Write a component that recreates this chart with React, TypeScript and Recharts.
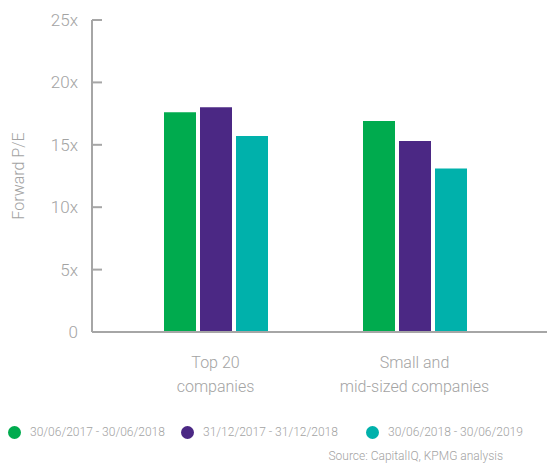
import React from 'react';
import { BarChart, Bar, XAxis, YAxis, Label } from 'recharts';

// categories (x axis), "\n" splits the label over two lines
const CATEGORIES = ['Top 20\ncompanies', 'Small and\nmid-sized companies'];

// series: forward P/E per period
const SERIES_NAMES = ['30/06/2017 - 30/06/2018', '31/12/2017 - 31/12/2018', '30/06/2018 - 30/06/2019'];
const SERIES_KEYS = ['p2018', 'd2018', 'p2019'];
const P2018 = [17.6, 16.9];
const D2018 = [18.0, 15.3];
const P2019 = [15.7, 13.1];

const Y_TICKS = [0, 5, 10, 15, 20, 25];

const COLORS = ['#00AB4E', '#4B2884', '#00B1AB'];
const AXIS_COLOR = '#A6A6A6';
const TEXT_COLOR = '#A3A3A3';
const FONT = 'Roboto, "Noto Sans", sans-serif';

const data = CATEGORIES.map((name, i) => ({
  name,
  p2018: P2018[i],
  d2018: D2018[i],
  p2019: P2019[i],
}));

// y tick: label on the left, short tick pointing into the plot
const YTick = (props: any) => {
  const { x, y, payload } = props;
  return (
    <g>
      <text x={x} y={y} dy={6} textAnchor="end" fill={TEXT_COLOR} fontSize={17} fontWeight={300} fontFamily={FONT}>
        {payload.value === 0 ? '0' : `${payload.value}x`}
      </text>
      <line x1={x + 14} x2={x + 24} y1={y} y2={y} stroke={AXIS_COLOR} strokeWidth={2} />
    </g>
  );
};

const XTick = (props: any) => {
  const { x, y, payload } = props;
  const lines = String(payload.value).split('\n');
  return (
    <text x={x} y={y} textAnchor="middle" fill={TEXT_COLOR} fontSize={16} fontWeight={300} fontFamily={FONT}>
      {lines.map((l, i) => (
        <tspan key={i} x={x} dy={i === 0 ? 30 : 24}>{l}</tspan>
      ))}
    </text>
  );
};

export default function App() {
  return (
    <div style={{ position: 'absolute', left: 0, top: 0, width: 547, height: 465, background: '#fff', fontFamily: FONT }}>
      <BarChart width={547} height={410} data={data} margin={{ top: 20, right: 0, left: 0, bottom: 0 }} barSize={32} barGap={4}>
        <XAxis
          dataKey="name"
          height={78}
          interval={0}
          tickLine={false}
          tickSize={0}
          tickMargin={6}
          padding={{ left: 24, right: 33 }}
          axisLine={{ stroke: AXIS_COLOR, strokeWidth: 2 }}
          tick={<XTick />}
        />
        <YAxis
          width={92}
          domain={[0, 25]}
          ticks={Y_TICKS}
          interval={0}
          tickLine={false}
          tickSize={0}
          tickMargin={14}
          axisLine={{ stroke: AXIS_COLOR, strokeWidth: 2 }}
          tick={<YTick />}
        >
          <Label
            content={(p: any) => {
              const vb = p.viewBox;
              const cx = vb.x + 18;
              const cy = vb.y + vb.height / 2;
              return (
                <text x={cx} y={cy} transform={`rotate(-90 ${cx} ${cy})`} textAnchor="middle" dominantBaseline="central"
                  fill={TEXT_COLOR} fontSize={16} fontWeight={300} fontFamily={FONT}>
                  Forward P/E
                </text>
              );
            }}
          />
        </YAxis>
        {SERIES_KEYS.map((k, i) => (
          <Bar key={k} dataKey={k} name={SERIES_NAMES[i]} fill={COLORS[i]} isAnimationActive={false} />
        ))}
      </BarChart>
      <div style={{ position: 'absolute', top: 425, left: 0, width: 547, height: 18 }}>
        {SERIES_NAMES.map((n, i) => (
          <div key={n} style={{ position: 'absolute', left: [8, 181, 366][i], top: 0, display: 'flex', alignItems: 'center' }}>
            <span style={{ display: 'inline-block', width: 13, height: 13, borderRadius: '50%', background: COLORS[i], marginRight: 9 }} />
            <span style={{ fontSize: 12, color: TEXT_COLOR, fontWeight: 300, whiteSpace: 'nowrap' }}>{n}</span>
          </div>
        ))}
      </div>
      <div style={{ position: 'absolute', top: 449, right: 44, fontSize: 12, color: TEXT_COLOR, fontWeight: 300, whiteSpace: 'nowrap' }}>
        Source: CapitalIQ, KPMG analysis
      </div>
    </div>
  );
}
